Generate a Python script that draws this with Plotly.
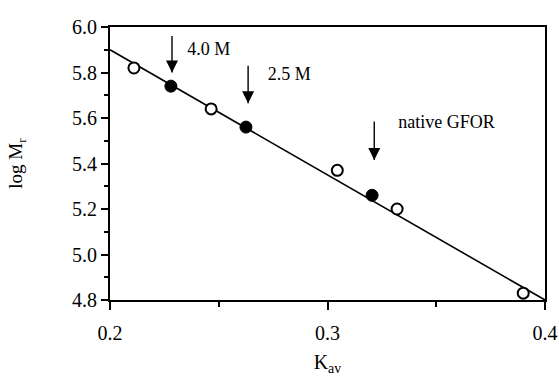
import plotly.graph_objects as go

# data
kav_open = [0.211, 0.2465, 0.3045, 0.332, 0.390]
logm_open = [5.82, 5.64, 5.37, 5.20, 4.83]
kav_filled = [0.228, 0.2625, 0.3205]
logm_filled = [5.74, 5.56, 5.26]
fit_x = [0.2, 0.4]
fit_y = [5.90, 4.80]
arrow_labels = ["4.0 M", "2.5 M", "native GFOR"]
arrow_x = [0.2285, 0.2635, 0.3215]
arrow_tip = [5.80, 5.665, 5.415]
arrow_tail = [5.96, 5.83, 5.585]
label_x = [0.2355, 0.2725, 0.3325]
label_y = [5.895, 5.785, 5.574]
xticks = [0.2, 0.3, 0.4]
yticks = [4.8, 5.0, 5.2, 5.4, 5.6, 5.8, 6.0]

FONT = "Liberation Serif"

fig = go.Figure()
fig.add_trace(go.Scatter(x=fit_x, y=fit_y, mode="lines",
                         line=dict(color="black", width=1.6), showlegend=False))
fig.add_trace(go.Scatter(x=kav_open, y=logm_open, mode="markers",
                         marker=dict(symbol="circle", size=11, color="white",
                                     line=dict(color="black", width=2)),
                         showlegend=False, cliponaxis=False))
fig.add_trace(go.Scatter(x=kav_filled, y=logm_filled, mode="markers",
                         marker=dict(symbol="circle", size=12, color="black",
                                     line=dict(color="black", width=1)),
                         showlegend=False, cliponaxis=False))

# arrows: shafts + heads
shaft_x, shaft_y = [], []
for x, tip, tail in zip(arrow_x, arrow_tip, arrow_tail):
    shaft_x += [x, x, None]
    shaft_y += [tail, tip, None]
fig.add_trace(go.Scatter(x=shaft_x, y=shaft_y, mode="lines",
                         line=dict(color="black", width=1.4), showlegend=False))
fig.add_trace(go.Scatter(x=arrow_x, y=arrow_tip, mode="markers",
                         marker=dict(symbol="arrow-down", size=12, color="black",
                                     line=dict(width=0)),
                         showlegend=False))
fig.add_trace(go.Scatter(x=label_x, y=label_y, mode="text", text=arrow_labels,
                         textposition="middle right",
                         textfont=dict(family=FONT, size=18, color="black"),
                         showlegend=False))

fig.update_layout(
    width=559, height=380,
    margin=dict(l=110, r=14, t=27, b=80),
    paper_bgcolor="white", plot_bgcolor="white",
    font=dict(family=FONT, size=19, color="black"),
)
fig.update_xaxes(range=[0.2, 0.4], tickvals=xticks, ticktext=[f"{v:.1f}" for v in xticks],
                 ticks="outside", ticklen=8, tickwidth=2, tickcolor="black",
                 minor=dict(dtick=0.05, tick0=0.2, ticks="outside", ticklen=5, tickwidth=1.5, tickcolor="black"),
                 showline=True, linewidth=2, linecolor="black", mirror=True,
                 showgrid=False, zeroline=False, automargin=False,
                 ticklabelstandoff=6,
                 title=dict(text="K<sub>av</sub>", font=dict(family=FONT, size=20), standoff=12),
                 tickfont=dict(family=FONT, size=20))
fig.update_yaxes(range=[4.8, 6.0], tickvals=yticks, ticktext=[f"{v:.1f}" for v in yticks],
                 ticks="outside", ticklen=7, tickwidth=2, tickcolor="black",
                 minor=dict(dtick=0.1, tick0=4.8, ticks="outside", ticklen=4, tickwidth=1.5, tickcolor="black"),
                 showline=True, linewidth=2, linecolor="black", mirror=True,
                 showgrid=False, zeroline=False, automargin=False,
                 title=dict(text="log M<sub>r</sub>", font=dict(family=FONT, size=19), standoff=44),
                 tickfont=dict(family=FONT, size=20))

fig.write_html("out.html")
